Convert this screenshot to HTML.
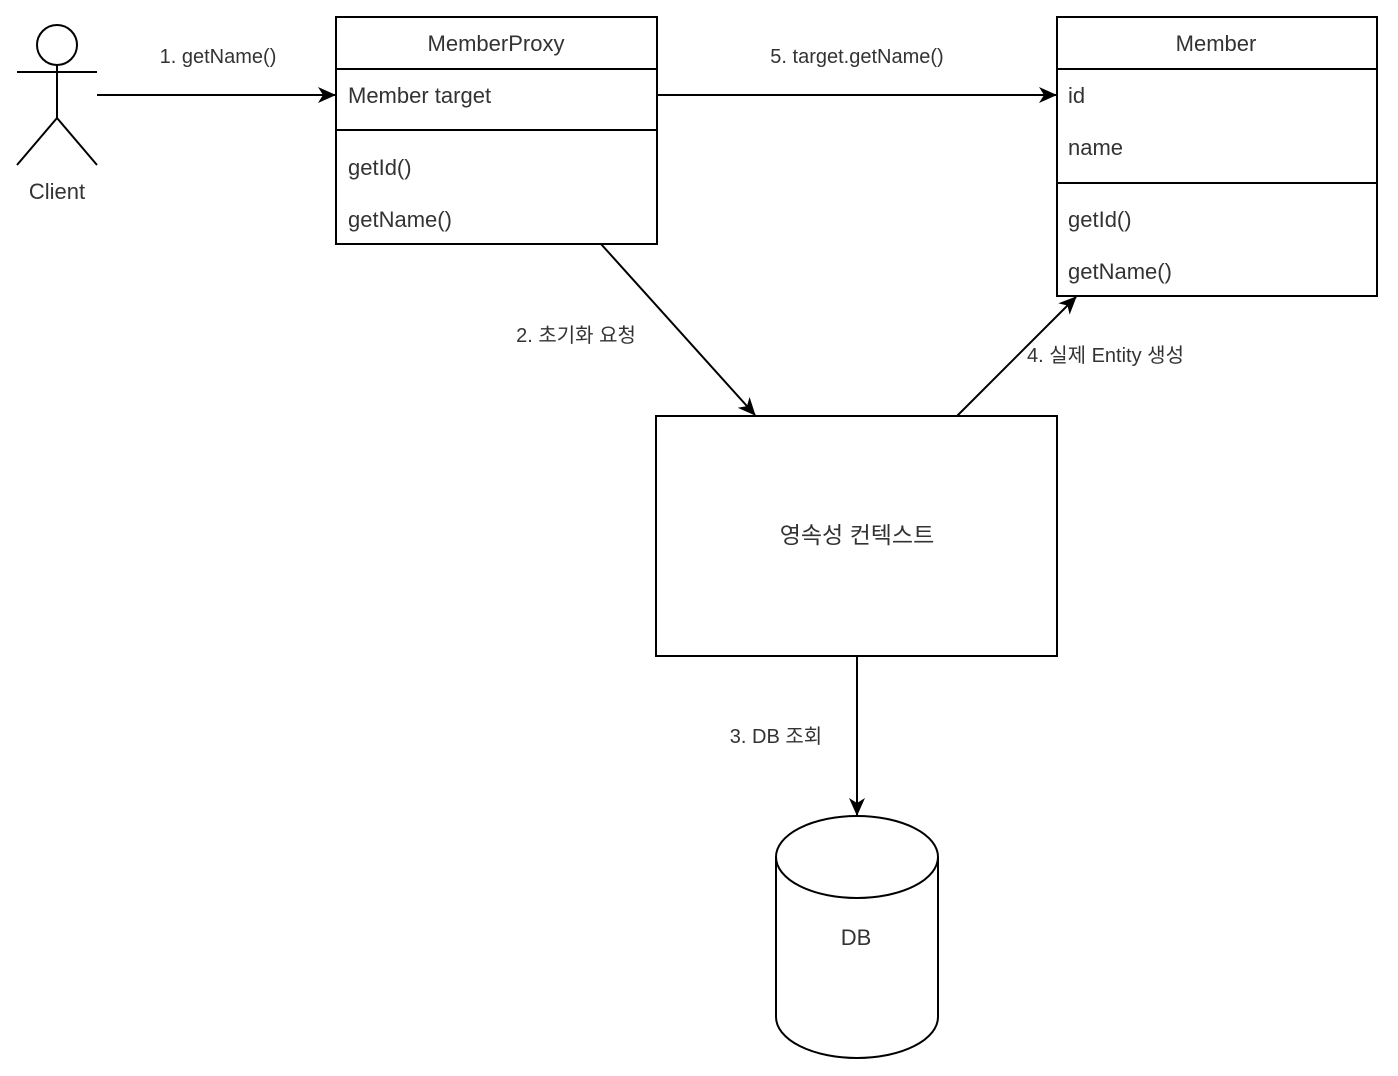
<!DOCTYPE html>
<html><head><meta charset="utf-8"><style>
html,body{margin:0;padding:0;background:#fff;}
svg{display:block;}
text{font-family:"Liberation Sans","Noto Sans CJK KR",sans-serif;fill:#333;}
</style></head><body>
<svg width="1398" height="1076" viewBox="0 0 1398 1076" xmlns="http://www.w3.org/2000/svg">
<defs><marker id="a" markerWidth="18" markerHeight="16" refX="17" refY="8" orient="auto" markerUnits="userSpaceOnUse"><path d="M0,0 L18,8 L0,16 L5,8 Z" fill="#000"/></marker></defs>
<g stroke="#000" stroke-width="2" fill="none">
<circle cx="57" cy="45" r="20" fill="#fff"/>
<line x1="57" y1="65" x2="57" y2="118"/>
<line x1="17" y1="72" x2="97" y2="72"/>
<line x1="57" y1="118" x2="17" y2="165"/>
<line x1="57" y1="118" x2="97" y2="165"/>
<rect x="336" y="17" width="321" height="227" fill="#fff"/>
<line x1="336" y1="69" x2="657" y2="69"/>
<line x1="336" y1="130" x2="657" y2="130"/>
<rect x="1057" y="17" width="320" height="279" fill="#fff"/>
<line x1="1057" y1="69" x2="1377" y2="69"/>
<line x1="1057" y1="183" x2="1377" y2="183"/>
<rect x="656" y="416" width="401" height="240" fill="#fff"/>
<line x1="97" y1="95" x2="335" y2="95" marker-end="url(#a)"/>
<line x1="657" y1="95" x2="1056" y2="95" marker-end="url(#a)"/>
<line x1="601" y1="244" x2="755" y2="415" marker-end="url(#a)"/>
<line x1="957" y1="416" x2="1076" y2="297" marker-end="url(#a)"/>
<line x1="857" y1="656" x2="857" y2="815" marker-end="url(#a)"/>
<path d="M776,857 L776,1017 A81,41 0 0 0 938,1017 L938,857" fill="#fff"/>
<ellipse cx="857" cy="857" rx="81" ry="41" fill="#fff"/>
</g>
<g font-size="22">
<text x="57" y="199" text-anchor="middle">Client</text>
<text x="496" y="51" text-anchor="middle">MemberProxy</text>
<text x="348" y="103">Member target</text>
<text x="348" y="175">getId()</text>
<text x="348" y="227">getName()</text>
<text x="1216" y="51" text-anchor="middle">Member</text>
<text x="1068" y="103">id</text>
<text x="1068" y="155">name</text>
<text x="1068" y="227">getId()</text>
<text x="1068" y="279">getName()</text>
<text x="857" y="543" text-anchor="middle" font-size="23">영속성 컨텍스트</text>
<text x="856" y="945" text-anchor="middle">DB</text>
</g>
<g font-size="20">
<text x="218" y="63" text-anchor="middle">1. getName()</text>
<text x="857" y="63" text-anchor="middle">5. target.getName()</text>
<text x="576" y="342" text-anchor="middle">2. 초기화 요청</text>
<text x="1027" y="362">4. 실제 Entity 생성</text>
<text x="776" y="743" text-anchor="middle">3. DB 조회</text>
</g>
</svg>
</body></html>
